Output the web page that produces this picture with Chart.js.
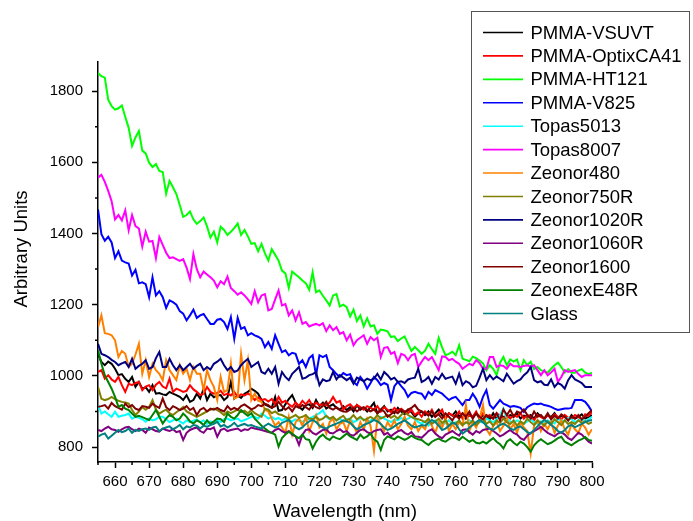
<!DOCTYPE html>
<html>
<head>
<meta charset="utf-8">
<script src="https://cdn.jsdelivr.net/npm/chart.js@4/dist/chart.umd.min.js"></script>
<style>
html,body{margin:0;padding:0;background:#fff;}
#wrap{width:693px;height:521px;position:relative;}
</style>
</head>
<body>
<div id="wrap"><canvas id="c" width="693" height="521"></canvas></div>
<script>
// ---- data ----
const wavelengths = [];
for (let w = 655; w <= 800; w++) wavelengths.push(w);

const seriesNames = ["PMMA-VSUVT","PMMA-OptixCA41","PMMA-HT121","PMMA-V825","Topas5013","Topas8007","Zeonor480","Zeonor750R","Zeonor1020R","Zeonor1060R","Zeonor1600","ZeonexE48R","Glass"];
const seriesColors = ["#000000","#ff0000","#00ff00","#0000ff","#00ffff","#ff00ff","#ff8000","#808000","#000080","#800080","#800000","#008000","#008080"];

const pmmaVSUVT = [
1062,1039,1030,1040,1034,1020,1002,1005,992,983,
997,969,983,964,968,955,974,950,952,948,
946,955,950,946,941,932,946,927,932,950,
936,964,932,950,940,945,946,932,940,983,
936,945,938,950,955,964,958,950,932,920,
915,910,941,902,904,920,935,946,925,913,
905,918,920,910,932,915,925,908,915,920,
910,905,915,904,912,900,918,905,910,900,
912,924,895,905,915,900,905,895,910,900,
892,905,898,885,895,900,890,900,885,895,
905,890,880,895,888,900,885,895,880,890,
885,895,880,890,885,878,895,880,890,885,
880,890,885,895,880,888,885,890,880,895,
885,880,890,884,895,880,888,885,875,890,
880,885,892,880,885,890];
const pmmaOptixCA41 = [
1011,1016,992,1002,990,983,997,974,955,978,
974,980,983,960,970,974,960,975,983,970,
965,992,955,964,960,955,958,974,962,955,
946,950,969,955,950,952,958,946,950,945,
955,941,948,945,950,945,932,940,932,935,
928,935,920,941,925,930,920,913,925,915,
930,920,932,915,925,918,920,917,925,941,
925,930,905,915,920,910,918,912,905,915,
910,905,915,900,912,905,898,910,902,908,
900,895,905,890,898,885,900,890,905,885,
895,905,880,895,890,885,900,880,895,888,
885,900,880,895,885,890,880,895,888,880,
892,880,890,885,895,880,890,885,875,890,
885,878,890,880,892,885,878,890,882,880,
890,885,875,892,888,898];
const pmmaHT121 = [
1851,1842,1838,1776,1758,1748,1752,1760,1728,1697,
1646,1670,1688,1633,1625,1599,1587,1595,1576,1573,
1512,1548,1530,1511,1480,1447,1452,1462,1440,1427,
1435,1445,1420,1389,1405,1375,1419,1410,1396,1405,
1415,1428,1396,1410,1392,1371,1373,1350,1371,1344,
1324,1356,1340,1324,1296,1288,1247,1293,1285,1277,
1268,1260,1242,1291,1235,1240,1225,1212,1198,1226,
1230,1195,1200,1193,1167,1186,1154,1170,1139,1162,
1139,1142,1118,1130,1128,1125,1109,1111,1098,1105,
1111,1090,1070,1081,1072,1062,1071,1090,1075,1062,
1107,1080,1058,1062,1068,1058,1086,1048,1045,1041,
1054,1050,1043,1035,1016,1030,1020,1002,1037,1053,
1030,1046,1040,1046,1016,1044,1030,1040,1019,1025,
1016,1012,1009,1020,1030,1037,1025,1009,1019,1009,
1009,1015,1019,1009,1005,1009];
const pmmaV825 = [
1468,1398,1380,1391,1375,1331,1350,1324,1319,1316,
1282,1298,1260,1263,1258,1221,1277,1226,1238,1221,
1191,1212,1207,1200,1182,1175,1156,1170,1186,1163,
1170,1174,1160,1146,1146,1158,1160,1151,1132,1165,
1104,1163,1132,1137,1114,1120,1114,1110,1104,1081,
1095,1076,1114,1090,1067,1072,1058,1065,1062,1034,
1044,1025,1050,1058,1002,1058,1053,1058,1025,1016,
1005,997,1008,1002,1005,983,974,997,985,964,
980,997,988,974,980,975,932,971,983,971,
960,941,952,955,952,950,936,955,946,960,
955,950,941,932,938,941,930,918,932,932,
950,935,913,941,960,918,908,920,932,922,
918,913,915,913,910,899,912,918,922,920,
922,918,916,913,908,904,906,908,908,910,
932,932,932,927,915,899];
const topas5013 = [
918,894,900,892,885,899,885,888,890,894,
880,885,882,878,871,880,875,878,885,885,
878,870,875,880,872,866,875,870,874,878,
870,875,865,872,868,875,870,878,880,875,
878,880,872,876,880,885,885,880,894,888,
880,885,878,882,875,880,876,872,878,874,
871,875,880,885,890,895,904,885,878,882,
875,880,872,878,880,870,875,882,878,870,
875,880,872,885,880,875,870,878,875,882,
876,880,885,878,870,866,872,860,868,875,
870,862,868,875,865,870,872,862,868,875,
870,865,872,868,880,875,870,878,890,908,
880,872,868,875,870,865,872,878,870,865,
872,868,875,870,866,880,872,875,882,878,
870,875,880,872,878,885];
const topas8007 = [
1557,1565,1545,1520,1491,1440,1452,1437,1465,1409,
1452,1421,1414,1363,1405,1377,1379,1331,1390,1368,
1346,1331,1333,1328,1323,1328,1304,1272,1342,1300,
1277,1293,1285,1277,1268,1249,1266,1258,1279,1247,
1238,1228,1235,1226,1215,1202,1238,1207,1226,1230,
1184,1188,1215,1240,1198,1202,1170,1184,1156,1179,
1146,1151,1139,1143,1146,1142,1148,1126,1142,1128,
1137,1118,1123,1100,1116,1086,1100,1107,1114,1090,
1109,1100,1107,1053,1079,1081,1062,1067,1036,1062,
1058,1044,1058,1062,1025,1040,1053,1044,1053,1035,
1016,1055,1053,1044,1048,1040,1034,1020,1027,1034,
1030,1044,1036,1020,1020,1053,1053,1025,1030,1028,
1020,1034,1027,1027,1025,1028,1030,1025,1030,1016,
1002,1016,1002,1010,1020,983,997,1016,1011,1014,
1016,1005,997,1002,1002,1002];
const zeonor480 = [
1137,1170,1120,1118,1114,1100,1053,1070,1062,1025,
1034,1060,1090,1006,1044,997,1034,1016,1006,988,
1044,1016,1002,988,1030,1006,1020,988,1025,1006,
1006,960,1016,988,969,932,997,955,960,1034,
936,941,1062,988,1044,932,950,930,927,905,
900,880,860,870,855,840,885,835,870,880,
860,885,845,870,890,855,865,838,870,880,
850,865,870,845,875,860,840,870,850,880,
860,789,880,865,845,870,855,875,850,865,
885,860,850,870,845,860,850,875,860,840,
870,855,880,845,865,850,870,860,918,845,
870,855,880,918,850,835,860,870,845,860,
880,850,865,840,870,855,845,782,860,875,
845,865,850,870,840,860,875,850,835,865,
850,840,865,855,835,850];
const zeonor750R = [
969,936,932,935,941,935,930,927,925,922,
904,890,900,912,905,913,932,905,894,900,
905,895,890,898,905,913,900,895,890,885,
890,895,900,905,908,904,898,890,900,895,
900,905,898,902,895,904,895,890,885,908,
905,895,900,892,890,885,880,885,890,882,
885,890,880,878,885,876,880,888,880,885,
875,882,888,875,880,890,878,885,875,880,
885,878,890,880,885,890,882,888,880,890,
899,890,885,880,878,875,870,880,865,872,
880,868,875,860,870,865,875,862,870,865,
875,862,870,880,865,872,860,875,868,880,
870,865,875,860,872,865,880,870,862,875,
868,860,872,865,878,870,862,875,865,870,
865,875,868,872,865,870];
const zeonor1020R = [
1090,1062,1058,1053,1045,1039,1030,1035,1039,1025,
1048,1020,1028,1034,1044,1020,1025,1050,1067,1025,
1025,1048,1030,1016,1030,1016,1025,1034,1020,1028,
1034,1016,1025,1018,1034,1040,1048,1030,1016,1025,
1011,1015,1030,1040,1048,1025,1032,1039,1011,1006,
1020,1006,1025,978,1011,997,988,1006,1015,1025,
992,995,1002,1005,1011,974,990,985,988,1011,
990,1002,995,988,995,978,995,990,985,992,
988,992,1006,990,1011,1002,990,995,983,985,
980,990,993,995,1020,983,988,997,978,997,
990,1006,992,995,998,978,1006,974,985,980,
968,972,995,1020,988,1002,990,998,992,985,
1006,992,978,985,990,1002,1010,1025,988,982,
985,975,974,990,969,980,975,964,988,1002,
990,985,980,969,969,969];
const zeonor1060R = [
848,845,852,857,850,848,843,850,855,857,
850,845,852,848,840,855,850,845,843,852,
848,845,850,842,845,820,840,848,852,855,
845,840,852,850,855,829,848,852,845,848,
850,852,845,850,848,855,852,850,848,845,
842,840,848,852,845,840,845,835,830,806,
835,848,850,840,835,842,848,850,840,838,
845,850,842,845,835,832,840,848,850,842,
838,845,848,850,835,840,830,838,844,848,
840,835,842,830,829,826,835,845,850,838,
830,825,835,840,845,838,832,848,850,842,
835,845,840,848,850,852,845,838,830,835,
842,848,840,835,825,820,832,840,845,850,
857,848,840,835,830,838,842,835,825,820,
830,840,835,825,815,810];
const zeonor1600 = [
913,915,918,908,924,915,910,905,922,912,
918,908,904,915,913,910,922,915,910,936,
912,904,915,910,904,908,915,904,910,890,
905,910,900,908,905,910,904,900,915,905,
910,905,915,920,913,906,910,918,915,922,
918,910,915,927,915,905,912,900,915,910,
918,912,905,920,912,908,915,927,910,905,
912,904,900,899,905,910,900,908,912,905,
900,906,895,905,900,885,892,900,895,905,
898,905,910,918,905,900,895,888,900,885,
892,880,895,885,875,890,880,895,885,900,
880,895,885,878,890,885,880,895,875,906,
890,905,885,900,895,906,890,880,900,885,
890,880,895,878,888,880,892,885,875,885,
880,890,878,885,895,904];
const zeonexE48R = [
1072,1034,1002,983,964,941,913,918,908,904,
894,885,888,884,880,876,890,904,885,866,
880,890,885,875,880,894,885,872,866,875,
870,862,875,865,872,880,878,870,894,885,
880,890,904,895,888,895,880,870,860,852,
845,840,835,801,825,835,843,838,830,825,
835,822,820,796,815,828,835,825,820,830,
825,822,830,838,830,825,820,835,825,830,
838,822,815,792,820,830,826,822,830,825,
820,825,832,826,822,820,812,806,815,820,
824,818,815,822,828,825,820,829,822,815,
820,812,810,815,810,818,825,815,808,796,
815,822,812,805,815,810,800,787,805,815,
822,815,808,812,818,825,829,815,810,805,
812,818,822,828,820,818];
const glass = [
829,835,838,824,832,840,848,842,845,852,
840,848,845,850,852,848,855,857,845,852,
855,858,850,855,862,850,858,855,862,860,
852,860,857,862,865,871,858,862,855,860,
868,858,862,865,860,862,858,855,852,860,
866,860,855,858,868,872,876,865,855,850,
855,865,872,876,870,860,855,852,858,862,
866,870,875,872,868,858,850,855,862,866,
870,876,872,865,855,848,852,858,865,870,
875,868,860,855,858,862,860,868,876,870,
860,848,852,860,868,865,850,838,845,855,
862,870,876,870,860,852,848,855,862,866,
860,852,848,855,858,850,842,838,848,858,
868,876,870,862,855,845,840,848,858,862,
856,860,865,870,874,876];

const seriesValues = [pmmaVSUVT, pmmaOptixCA41, pmmaHT121, pmmaV825, topas5013, topas8007, zeonor480, zeonor750R, zeonor1020R, zeonor1060R, zeonor1600, zeonexE48R, glass];

const xTickValues = [660,670,680,690,700,710,720,730,740,750,760,770,780,790,800];
const xMinorTickValues = [655,665,675,685,695,705,715,725,735,745,755,765,775,785,795];
const yTickValues = [800,1000,1200,1400,1600,1800];
const yMinorTickValues = [900,1100,1300,1500,1700];

const xTitle = "Wavelength (nm)";
const yTitle = "Arbitrary Units";

// ---- chart ----
const FONT = "'Liberation Sans', Arial, Helvetica, sans-serif";

const datasets = seriesNames.map((name, i) => ({
  label: name,
  data: wavelengths.map((w, k) => ({x: w, y: seriesValues[i][k]})),
  borderColor: seriesColors[i],
  backgroundColor: seriesColors[i],
  borderWidth: 2,
  pointRadius: 0,
  tension: 0,
  fill: false,
  order: seriesNames.length - 1 - i
}));

const extrasPlugin = {
  id: 'extras',
  afterDraw(chart) {
    const ctx = chart.ctx;
    const xs = chart.scales.x, ys = chart.scales.y;
    const area = chart.chartArea;
    ctx.save();
    // minor ticks
    ctx.strokeStyle = '#000';
    ctx.lineWidth = 1.5;
    ctx.beginPath();
    xMinorTickValues.forEach(v => {
      const px = xs.getPixelForValue(v);
      ctx.moveTo(px, area.bottom);
      ctx.lineTo(px, area.bottom + 3);
    });
    yMinorTickValues.forEach(v => {
      const py = ys.getPixelForValue(v);
      ctx.moveTo(area.left, py);
      ctx.lineTo(area.left - 3, py);
    });
    ctx.stroke();

    // y axis title
    ctx.fillStyle = '#000';
    ctx.font = "18.5px " + FONT;
    ctx.textAlign = 'center';
    ctx.textBaseline = 'alphabetic';
    ctx.translate(26.5, 249);
    ctx.rotate(-Math.PI / 2);
    ctx.fillText(yTitle, 0, 0);
    ctx.setTransform(1, 0, 0, 1, 0, 0);

    // legend box
    const bx = 471.5, by = 11.5, bw = 218, bh = 321;
    ctx.fillStyle = '#fff';
    ctx.fillRect(bx, by, bw, bh);
    ctx.strokeStyle = '#555';
    ctx.lineWidth = 1;
    ctx.strokeRect(bx, by, bw, bh);
    ctx.font = "18.5px " + FONT;
    ctx.textAlign = 'left';
    ctx.textBaseline = 'middle';
    chart.data.datasets.forEach((ds, i) => {
      const yy = 32.5 + i * 23.42;
      ctx.strokeStyle = ds.borderColor;
      ctx.lineWidth = 1.6;
      ctx.beginPath();
      ctx.moveTo(483, yy);
      ctx.lineTo(523, yy);
      ctx.stroke();
      ctx.fillStyle = '#000';
      ctx.fillText(ds.label, 530.5, yy + 1);
    });
    ctx.restore();
  }
};

new Chart(document.getElementById('c'), {
  type: 'line',
  data: { datasets },
  options: {
    responsive: false,
    animation: false,
    devicePixelRatio: 1,
    layout: { padding: { top: 62, right: 101, left: 0, bottom: 0 } },
    plugins: { legend: { display: false }, tooltip: { enabled: false }, title: { display: false } },
    scales: {
      x: {
        type: 'linear',
        min: 655, max: 800,
        afterFit(scale) { scale.height = 59; },
        afterBuildTicks(scale) { scale.ticks = xTickValues.map(v => ({ value: v })); },
        grid: { display: true, drawOnChartArea: false, drawTicks: true, tickLength: 6, tickWidth: 1.5, tickColor: '#000' },
        border: { display: true, color: '#000', width: 1.5 },
        ticks: { color: '#000', font: { family: FONT, size: 15 }, padding: 5, maxRotation: 0, autoSkip: false, callback: v => String(v) },
        title: { display: true, text: xTitle, color: '#000', font: { family: FONT, size: 19, lineHeight: 1 }, padding: { top: 0, bottom: 0 } }
      },
      y: {
        type: 'linear',
        min: 758, max: 1882,
        afterFit(scale) { scale.width = 98; },
        afterBuildTicks(scale) { scale.ticks = yTickValues.map(v => ({ value: v })); },
        grid: { display: true, drawOnChartArea: false, drawTicks: true, tickLength: 6, tickWidth: 1.5, tickColor: '#000' },
        border: { display: true, color: '#000', width: 1.5 },
        ticks: { color: '#000', font: { family: FONT, size: 15 }, padding: 9, autoSkip: false, callback: v => String(v) },
        title: { display: false }
      }
    }
  },
  plugins: [extrasPlugin]
});
</script>
</body>
</html>
